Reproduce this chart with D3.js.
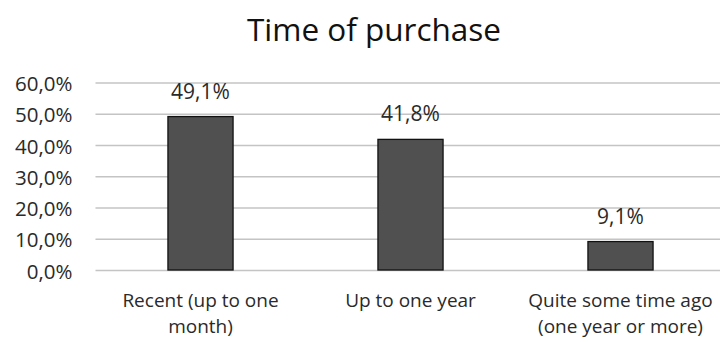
<!DOCTYPE html>
<html><head><meta charset="utf-8">
<script src="https://cdn.jsdelivr.net/npm/d3@7"></script>
<style>body{margin:0;background:#fff}svg{display:block}text{font-family:"Open Sans",sans-serif}</style>
</head><body><svg id="c" width="724" height="343"></svg>
<script>
const categories = [["Recent (up to one","month)"],["Up to one year"],["Quite some time ago","(one year or more)"]];
const values = [49.1, 41.8, 9.1];
const valueLabels = ["49,1%","41,8%","9,1%"];
const yTicks = [0,10,20,30,40,50,60];
const yTickLabels = ["0,0%","10,0%","20,0%","30,0%","40,0%","50,0%","60,0%"];

(function(){
const svg = d3.select("#c");
const mLeft = 95.5, mRight = 725.5, mTop = 82.5, mBottom = 270;
const x = d3.scaleBand().domain(d3.range(values.length)).range([mLeft, mRight]).paddingInner(0.69).paddingOuter(0.345);
const y = d3.scaleLinear().domain([0,60]).range([mBottom, mTop]);

svg.append("text").attr("x", 374).attr("y", 41).attr("text-anchor","middle")
  .attr("font-size", 31.5).attr("fill","#111").text("Time of purchase");

const yAxis = d3.axisLeft(y).tickValues(yTicks).tickSize(-(720-mLeft)).tickFormat((d,i)=>yTickLabels[i]);
const ga = svg.append("g").attr("transform",`translate(${mLeft},0)`).call(yAxis);
ga.select(".domain").remove();
ga.selectAll(".tick line").attr("stroke","#c4c4c4").attr("stroke-width",1.3);
ga.selectAll(".tick text").attr("x",-23).attr("dy","0.4em").attr("font-size",20.5).attr("fill","#2a2a2a");

svg.selectAll("rect.bar").data(values).join("rect").attr("class","bar")
  .attr("x",(d,i)=>x(i)).attr("width",x.bandwidth())
  .attr("y",d=>y(d)).attr("height",d=>mBottom-y(d))
  .attr("fill","#505050").attr("stroke","#111").attr("stroke-width",1.3);

svg.selectAll("text.vl").data(values).join("text").attr("class","vl")
  .attr("x",(d,i)=>x(i)+x.bandwidth()/2).attr("y",d=>y(d)-18)
  .attr("text-anchor","middle").attr("font-size",21).attr("fill","#2a2a2a")
  .text((d,i)=>valueLabels[i]);

const xa = svg.append("g").attr("transform",`translate(0,${mBottom})`).call(d3.axisBottom(x).tickSize(0).tickFormat(""));
xa.select(".domain").remove();
xa.selectAll(".tick").each(function(d){
  categories[d].forEach((line,j)=>d3.select(this).append("text").attr("text-anchor","middle")
    .attr("font-size",19).attr("fill","#2a2a2a").attr("x",0).attr("y",37+j*26).text(line));
});
})();
</script></body></html>
